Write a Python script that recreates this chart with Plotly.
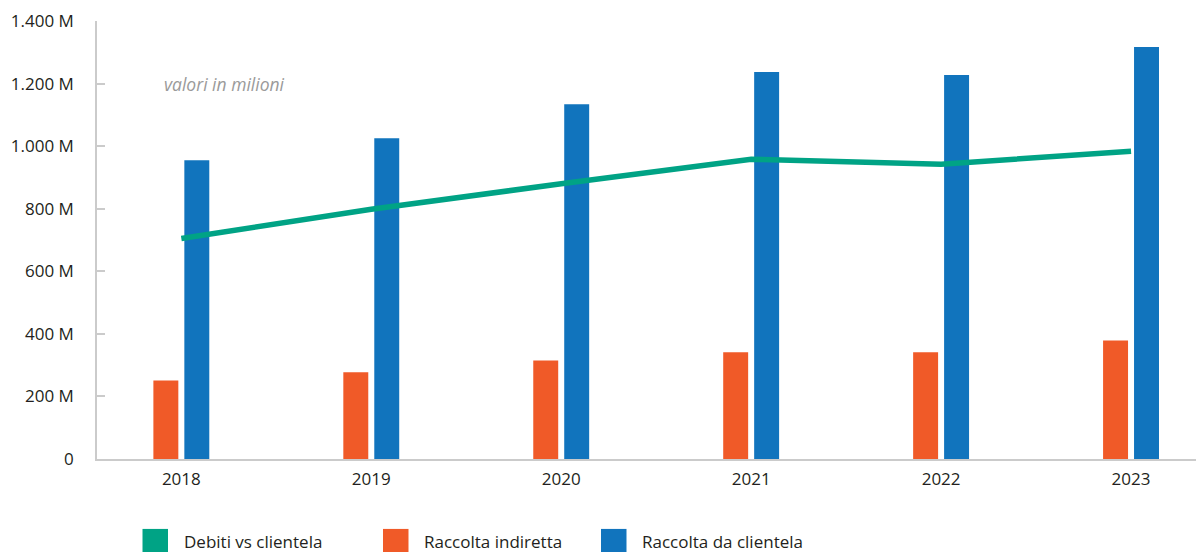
import plotly.graph_objects as go

# Dati (valori in milioni di euro)
anni = ["2018", "2019", "2020", "2021", "2022", "2023"]
debiti_vs_clientela = [705, 798, 880, 958, 942, 984]
raccolta_indiretta = [251, 277, 315, 341, 341, 379]
raccolta_da_clientela = [955, 1025, 1134, 1237, 1227, 1317]

nomi_serie = ["Debiti vs clientela", "Raccolta indiretta", "Raccolta da clientela"]
y_ticks = [0, 200, 400, 600, 800, 1000, 1200, 1400]
y_tick_labels = ["0", "200 M", "400 M", "600 M", "800 M", "1.000 M", "1.200 M", "1.400 M"]

VERDE = "#00A385"
ARANCIO = "#F05A28"
BLU = "#1174BD"
colori = [VERDE, ARANCIO, BLU]

W, H = 1196, 552
M_L, M_R, M_T, M_B = 97, 0, 20.5, 93
FONT = "Open Sans"
TESTO = "#231F20"


def px_x(px):
    return (px - M_L) / (W - M_L - M_R)


def px_y(py):
    return (H - M_B - py) / (H - M_T - M_B)


fig = go.Figure()

fig.add_trace(go.Bar(
    x=anni, y=raccolta_indiretta, name=nomi_serie[1],
    marker=dict(color=ARANCIO, line=dict(width=0)), showlegend=False,
))
fig.add_trace(go.Bar(
    x=anni, y=raccolta_da_clientela, name=nomi_serie[2],
    marker=dict(color=BLU, line=dict(width=0)), showlegend=False,
))
fig.add_trace(go.Scatter(
    x=anni, y=debiti_vs_clientela, name=nomi_serie[0], mode="lines",
    line=dict(color=VERDE, width=5.5), showlegend=False,
))

# Legenda in basso con quadrati pieni
quadrati_x = [142.5, 383, 601]
testi_x = [182, 421.5, 640]
shapes = []
annotations = []
for nome, colore, qx, tx in zip(nomi_serie, colori, quadrati_x, testi_x):
    shapes.append(dict(
        type="rect", xref="paper", yref="paper",
        x0=px_x(qx), x1=px_x(qx + 25.5), y0=px_y(529), y1=px_y(554),
        fillcolor=colore, line=dict(width=0), layer="above",
    ))
    annotations.append(dict(
        text=nome, xref="paper", yref="paper", x=px_x(tx), y=px_y(541.5),
        xanchor="left", yanchor="middle", showarrow=False,
        font=dict(family=FONT, size=17, color=TESTO),
    ))

annotations.append(dict(
    text="<i>valori in milioni</i>", xref="paper", yref="paper",
    x=px_x(162), y=px_y(84), xanchor="left", yanchor="middle", showarrow=False,
    font=dict(family=FONT, size=17.5, color="#9A9A9A"),
))

fig.update_layout(
    width=W, height=H,
    margin=dict(l=M_L, r=M_R, t=M_T, b=M_B, pad=0),
    paper_bgcolor="white", plot_bgcolor="white",
    barmode="group", bargap=0.674, bargroupgap=0.194,
    shapes=shapes, annotations=annotations,
    font=dict(family=FONT, size=17, color=TESTO),
    xaxis=dict(
        type="category", range=[-0.444, 5.342],
        showline=True, linecolor="#CBCBCB", linewidth=1.5,
        ticks="", showgrid=False, zeroline=False,
        ticklabelstandoff=4,
        tickfont=dict(family=FONT, size=17, color=TESTO),
        fixedrange=True,
    ),
    yaxis=dict(
        range=[0, 1400], tickvals=y_ticks, ticktext=y_tick_labels,
        showline=True, linecolor="#CBCBCB", linewidth=1.5,
        ticks="inside", ticklen=8, tickcolor="#CBCBCB", tickwidth=1.5,
        showgrid=False, zeroline=False,
        ticklabelstandoff=18,
        tickfont=dict(family=FONT, size=17, color=TESTO),
        fixedrange=True,
    ),
)

fig.write_html("out.html", config={"displayModeBar": False})
